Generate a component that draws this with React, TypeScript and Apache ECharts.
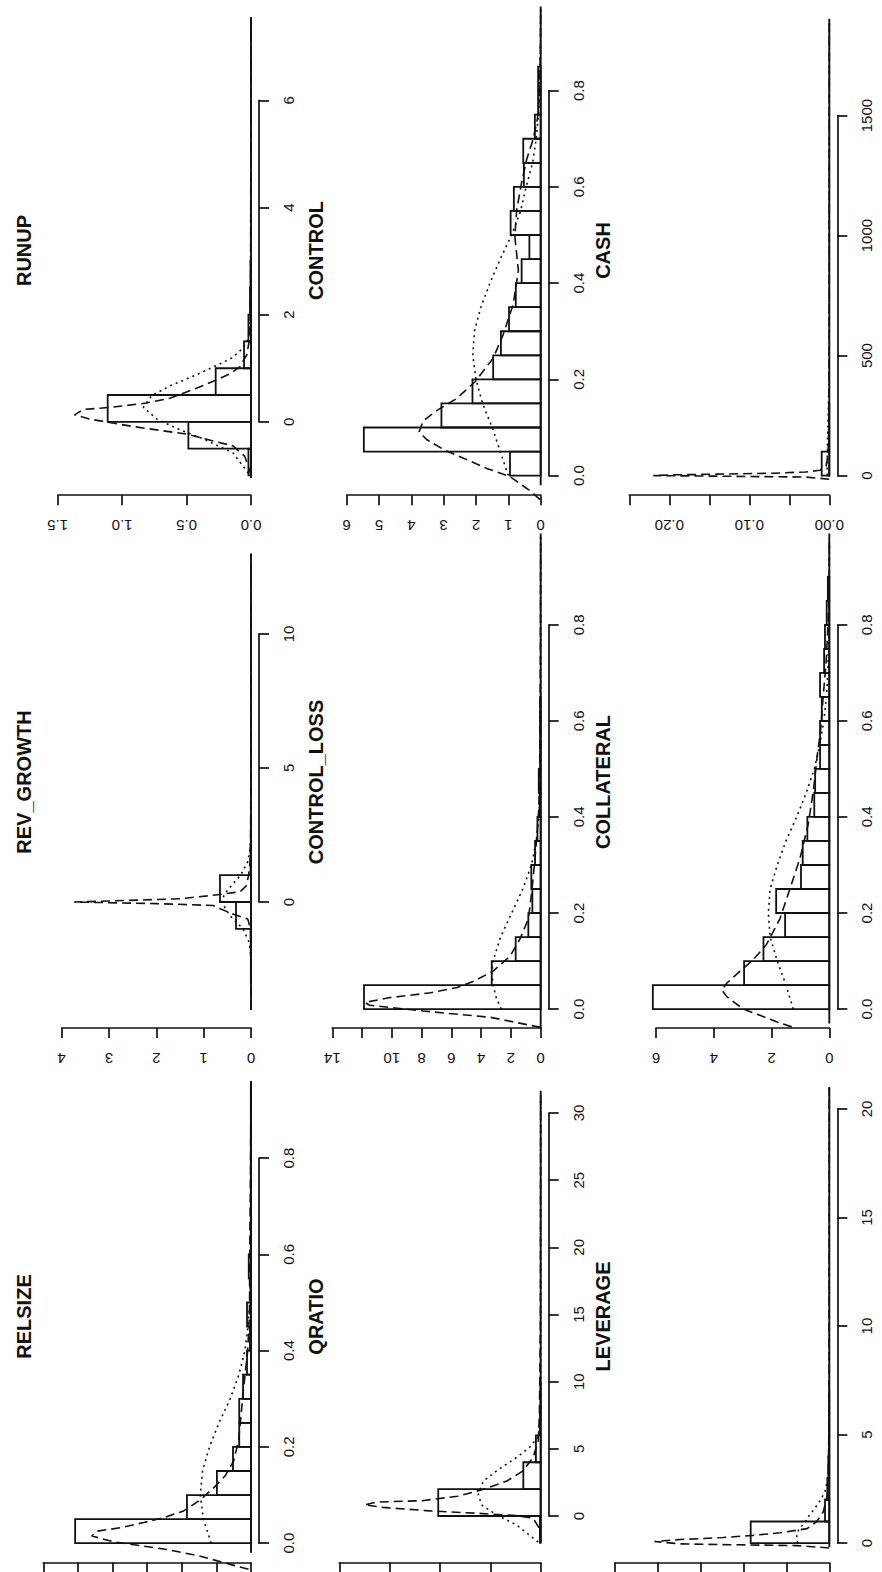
import React, { useEffect, useRef } from "react";
import * as echarts from "echarts";

const W = 882;
const H = 1572;

// ---------------- data (value = variable, density = histogram density) ----------------
// RUNUP
const RUNUP_BREAKS = [-1.0, -0.5, 0, 0.5, 1.0, 1.5, 2.0, 2.5, 3.0];
const RUNUP_DENSITY = [0.02, 0.486, 1.112, 0.274, 0.054, 0.02, 0.008, 0.004];
const RUNUP_KDE = [[-1.0, 0], [-0.83, 0.02], [-0.64, 0.05], [-0.45, 0.14], [-0.23, 0.5], [-0.09, 0.91], [0.05, 1.25], [0.13, 1.37], [0.23, 1.3], [0.27, 1.09], [0.35, 0.81], [0.44, 0.63], [0.555, 0.5], [0.65, 0.4], [0.78, 0.27], [0.9, 0.16], [1.03, 0.085], [1.25, 0.033], [1.56, 0.01], [2.5, 0.003], [4.0, 0.002], [7.55, 0]];
const RUNUP_NORMAL = [[-0.96, 0.02], [-0.58, 0.14], [-0.33, 0.36], [-0.14, 0.56], [0.05, 0.73], [0.27, 0.835], [0.49, 0.77], [0.68, 0.62], [0.87, 0.43], [1.06, 0.26], [1.19, 0.15], [1.38, 0.06], [1.56, 0.02], [2.0, 0.003], [7.55, 0]];
const RUNUP_RANGE = [-1.05, 7.55];
const RUNUP_VALUE_TICKS = [0, 2, 4, 6];
const RUNUP_DENSITY_TICKS = [0, 0.5, 1.0, 1.5];

// CONTROL
const CONTROL_BREAKS = [0, 0.05, 0.1, 0.15, 0.2, 0.25, 0.3, 0.35, 0.4, 0.45, 0.5, 0.55, 0.6, 0.65, 0.7, 0.75, 0.8, 0.85];
const CONTROL_DENSITY = [0.95, 5.47, 3.07, 2.11, 1.47, 1.23, 0.98, 0.77, 0.59, 0.35, 0.93, 0.83, 0.52, 0.54, 0.18, 0.08, 0.08];
const CONTROL_KDE = [[-0.05, 0.02], [-0.034, 0.28], [-0.002, 0.95], [0.015, 1.67], [0.054, 3.0], [0.075, 3.53], [0.091, 3.76], [0.114, 3.63], [0.135, 3.22], [0.16, 2.6], [0.195, 2.03], [0.244, 1.47], [0.293, 1.16], [0.356, 0.85], [0.426, 0.69], [0.497, 0.8], [0.553, 0.74], [0.609, 0.59], [0.658, 0.43], [0.7, 0.23], [0.742, 0.1], [0.79, 0.04], [0.88, 0.01], [0.97, 0]];
const CONTROL_NORMAL = [[0, 1.0], [0.05, 1.25], [0.1, 1.5], [0.15, 1.8], [0.2, 2.0], [0.25, 2.1], [0.3, 2.05], [0.35, 1.85], [0.4, 1.57], [0.45, 1.25], [0.5, 0.9], [0.55, 0.62], [0.6, 0.45], [0.65, 0.25], [0.7, 0.14], [0.75, 0.07], [0.8, 0.03], [0.9, 0.005], [0.97, 0]];
const CONTROL_RANGE = [-0.02, 0.975];
const CONTROL_VALUE_TICKS = [0, 0.2, 0.4, 0.6, 0.8];
const CONTROL_DENSITY_TICKS = [0, 1, 2, 3, 4, 5, 6];

// CASH
const CASH_BREAKS = [0, 100, 200, 300];
const CASH_DENSITY = [0.0095, 0.0004, 0.0001];
const CASH_KDE = [[-15, 0], [-6, 0.03], [-2, 0.15], [0, 0.22], [3, 0.2], [6, 0.14], [10, 0.07], [15, 0.03], [22, 0.012], [40, 0.004], [80, 0.002], [150, 0.001], [300, 0.0003], [600, 0.0001], [1900, 0]];
const CASH_NORMAL = [[0, 0.0026], [50, 0.0027], [150, 0.0022], [250, 0.0014], [350, 0.0007], [450, 0.0003], [600, 0.00005], [1900, 0]];
const CASH_RANGE = [-5, 1904];
const CASH_VALUE_TICKS = [0, 500, 1000, 1500];
const CASH_DENSITY_TICKS = [0, 0.05, 0.1, 0.15, 0.2, 0.25];

// REV_GROWTH
const REV_BREAKS = [-3, -2, -1, 0, 1, 2, 3];
const REV_DENSITY = [0.003, 0.006, 0.317, 0.655, 0.01, 0.003];
const REV_KDE = [[-4, 0], [-2, 0.004], [-1, 0.01], [-0.63, 0.07], [-0.44, 0.4], [-0.25, 0.65], [-0.13, 0.8], [-0.06, 2.0], [0, 3.74], [0.06, 2.6], [0.12, 1.5], [0.25, 0.8], [0.38, 0.23], [0.6, 0.1], [1.0, 0.05], [1.5, 0.02], [2.5, 0.008], [5, 0.003], [13, 0]];
const REV_NORMAL = [[-3.5, 0], [-2.0, 0.004], [-1.5, 0.04], [-1.0, 0.17], [-0.5, 0.45], [0, 0.62], [0.3, 0.56], [0.6, 0.42], [1.0, 0.22], [1.5, 0.07], [2.0, 0.015], [2.5, 0.002], [3, 0], [12.5, 0]];
const REV_RANGE = [-4.03, 12.99];
const REV_VALUE_TICKS = [0, 5, 10];
const REV_DENSITY_TICKS = [0, 1, 2, 3, 4];

// CONTROL_LOSS
const CLOSS_BREAKS = [0, 0.05, 0.1, 0.15, 0.2, 0.25, 0.3, 0.35, 0.4, 0.45, 0.5, 0.55, 0.6, 0.65];
const CLOSS_DENSITY = [11.87, 3.29, 1.68, 0.83, 0.56, 0.63, 0.38, 0.22, 0.07, 0.13, 0.04, 0.04, 0.04];
const CLOSS_KDE = [[-0.038, 0], [-0.017, 3.4], [-0.004, 7.9], [0.008, 11.5], [0.014, 11.8], [0.024, 10.1], [0.034, 7.4], [0.045, 5.6], [0.058, 4.5], [0.079, 3.2], [0.11, 2.06], [0.146, 1.39], [0.188, 0.83], [0.244, 0.6], [0.315, 0.38], [0.37, 0.23], [0.42, 0.12], [0.526, 0.06], [0.74, 0.02], [0.98, 0]];
const CLOSS_NORMAL = [[0, 2.65], [0.025, 3.0], [0.05, 3.2], [0.075, 3.28], [0.1, 3.2], [0.15, 2.7], [0.2, 1.95], [0.25, 1.2], [0.3, 0.62], [0.35, 0.3], [0.4, 0.12], [0.45, 0.04], [0.5, 0.01], [0.6, 0], [0.99, 0]];
const CLOSS_RANGE = [-0.04, 0.99];
const CLOSS_VALUE_TICKS = [0, 0.2, 0.4, 0.6, 0.8];
const CLOSS_DENSITY_TICKS = [0, 2, 4, 6, 8, 10, 12, 14];

// COLLATERAL
const COLL_BREAKS = [0, 0.05, 0.1, 0.15, 0.2, 0.25, 0.3, 0.35, 0.4, 0.45, 0.5, 0.55, 0.6, 0.65, 0.7, 0.75, 0.8, 0.85, 0.9];
const COLL_DENSITY = [6.11, 2.95, 2.28, 1.53, 1.84, 0.98, 0.92, 0.76, 0.52, 0.49, 0.32, 0.32, 0.26, 0.32, 0.18, 0.15, 0.09, 0.05];
const COLL_KDE = [[-0.037, 1.3], [-0.029, 1.71], [-0.013, 2.4], [0.0, 2.98], [0.026, 3.55], [0.04, 3.72], [0.054, 3.55], [0.079, 3.09], [0.103, 2.63], [0.135, 2.17], [0.188, 1.71], [0.251, 1.36], [0.315, 1.01], [0.385, 0.73], [0.455, 0.55], [0.526, 0.42], [0.582, 0.3], [0.652, 0.21], [0.722, 0.11], [0.807, 0.04], [0.91, 0], [0.97, 0]];
const COLL_NORMAL = [[0, 1.25], [0.05, 1.5], [0.1, 1.8], [0.15, 2.05], [0.2, 2.11], [0.25, 2.05], [0.3, 1.8], [0.35, 1.5], [0.4, 1.13], [0.45, 0.8], [0.5, 0.52], [0.55, 0.33], [0.6, 0.19], [0.65, 0.1], [0.7, 0.05], [0.8, 0.01], [0.9, 0], [0.97, 0]];
const COLL_RANGE = [-0.03, 0.99];
const COLL_VALUE_TICKS = [0, 0.2, 0.4, 0.6, 0.8];
const COLL_DENSITY_TICKS = [0, 2, 4, 6];

// RELSIZE
const RELSIZE_BREAKS = [0, 0.05, 0.1, 0.15, 0.2, 0.25, 0.3, 0.35, 0.4, 0.45, 0.5, 0.55, 0.6, 0.65, 0.7, 0.75, 0.8, 0.85, 0.9, 0.95];
const RELSIZE_DENSITY = [10.16, 3.7, 1.97, 1.04, 0.68, 0.68, 0.46, 0.23, 0.06, 0.23, 0.03, 0.13, 0.01, 0.01, 0.01, 0.01, 0.01, 0.01, 0.01];
const RELSIZE_KDE = [[-0.054, 0.14], [-0.044, 1.2], [-0.027, 2.93], [-0.013, 4.86], [-0.005, 6.4], [0.003, 7.94], [0.015, 9.2], [0.025, 8.9], [0.032, 7.55], [0.043, 6.2], [0.053, 5.05], [0.067, 3.9], [0.09, 2.93], [0.115, 2.16], [0.14, 1.49], [0.171, 1.0], [0.213, 0.72], [0.263, 0.58], [0.312, 0.46], [0.354, 0.33], [0.397, 0.2], [0.446, 0.12], [0.495, 0.08], [0.58, 0.08], [0.763, 0.03], [0.96, 0]];
const RELSIZE_NORMAL = [[0, 2.3], [0.05, 2.75], [0.1, 2.93], [0.15, 2.8], [0.2, 2.4], [0.25, 1.85], [0.3, 1.2], [0.35, 0.7], [0.4, 0.35], [0.45, 0.17], [0.5, 0.07], [0.6, 0.01], [0.7, 0], [0.96, 0]];
const RELSIZE_RANGE = [-0.02, 0.96];
const RELSIZE_VALUE_TICKS = [0, 0.2, 0.4, 0.6, 0.8];
const RELSIZE_DENSITY_TICKS = [0, 2, 4, 6, 8, 10, 12];

// QRATIO
const QRATIO_BREAKS = [-2, 0, 2, 4, 6, 8, 10];
const QRATIO_DENSITY = [0.003, 0.407, 0.069, 0.019, 0.003, 0.001];
const QRATIO_KDE = [[-1.9, 0], [-0.93, 0.005], [-0.17, 0.03], [0.03, 0.095], [0.2, 0.25], [0.38, 0.44], [0.64, 0.626], [0.83, 0.7], [1.04, 0.65], [1.14, 0.47], [1.47, 0.33], [1.97, 0.23], [2.6, 0.135], [3.36, 0.07], [4.37, 0.03], [5.6, 0.01], [7.6, 0.005], [15, 0.001], [31.6, 0]];
const QRATIO_NORMAL = [[-1.94, 0.01], [-0.68, 0.095], [0.08, 0.175], [0.83, 0.235], [1.59, 0.248], [2.6, 0.228], [3.36, 0.175], [4.37, 0.095], [5.13, 0.043], [5.9, 0.01], [7.6, 0], [31.6, 0]];
const QRATIO_RANGE = [-1.95, 31.65];
const QRATIO_VALUE_TICKS = [0, 5, 10, 15, 20, 25, 30];
const QRATIO_DENSITY_TICKS = [0, 0.2, 0.4, 0.6, 0.8];

// LEVERAGE
const LEV_BREAKS = [0, 1, 2, 3, 4, 5, 6, 7];
const LEV_DENSITY = [0.917, 0.05, 0.023, 0.012, 0.003, 0.002, 0.001];
const LEV_KDE = [[-0.22, 0], [-0.11, 0.38], [-0.07, 1.16], [-0.03, 1.74], [0.08, 2.04], [0.17, 1.74], [0.26, 1.24], [0.36, 0.89], [0.48, 0.575], [0.67, 0.26], [0.98, 0.15], [1.45, 0.07], [2.23, 0.023], [3.64, 0.01], [6.0, 0.003], [21, 0]];
const LEV_NORMAL = [[0, 0.37], [0.3, 0.38], [0.6, 0.36], [1.0, 0.28], [1.3, 0.23], [1.6, 0.17], [2.0, 0.1], [2.4, 0.05], [3.0, 0.015], [4.0, 0.002], [5, 0], [21, 0]];
const LEV_RANGE = [-0.18, 21.0];
const LEV_VALUE_TICKS = [0, 5, 10, 15, 20];
const LEV_DENSITY_TICKS = [0, 0.5, 1.0, 1.5, 2.0, 2.5];

// ---------------- panels ----------------
const PANELS = [
  { name: "RUNUP", breaks: RUNUP_BREAKS, dens: RUNUP_DENSITY, kde: RUNUP_KDE, norm: RUNUP_NORMAL, range: RUNUP_RANGE, vTicks: RUNUP_VALUE_TICKS, dTicks: RUNUP_DENSITY_TICKS, vDec: 0, dDec: 1, dHide: [] as number[], col: 0, band: 0 },
  { name: "CONTROL", breaks: CONTROL_BREAKS, dens: CONTROL_DENSITY, kde: CONTROL_KDE, norm: CONTROL_NORMAL, range: CONTROL_RANGE, vTicks: CONTROL_VALUE_TICKS, dTicks: CONTROL_DENSITY_TICKS, vDec: 1, dDec: 0, dHide: [] as number[], col: 1, band: 0 },
  { name: "CASH", breaks: CASH_BREAKS, dens: CASH_DENSITY, kde: CASH_KDE, norm: CASH_NORMAL, range: CASH_RANGE, vTicks: CASH_VALUE_TICKS, dTicks: CASH_DENSITY_TICKS, vDec: 0, dDec: 2, dHide: [0.05, 0.15, 0.25], col: 2, band: 0 },
  { name: "REV_GROWTH", breaks: REV_BREAKS, dens: REV_DENSITY, kde: REV_KDE, norm: REV_NORMAL, range: REV_RANGE, vTicks: REV_VALUE_TICKS, dTicks: REV_DENSITY_TICKS, vDec: 0, dDec: 0, dHide: [] as number[], col: 0, band: 1 },
  { name: "CONTROL_LOSS", breaks: CLOSS_BREAKS, dens: CLOSS_DENSITY, kde: CLOSS_KDE, norm: CLOSS_NORMAL, range: CLOSS_RANGE, vTicks: CLOSS_VALUE_TICKS, dTicks: CLOSS_DENSITY_TICKS, vDec: 1, dDec: 0, dHide: [12], col: 1, band: 1 },
  { name: "COLLATERAL", breaks: COLL_BREAKS, dens: COLL_DENSITY, kde: COLL_KDE, norm: COLL_NORMAL, range: COLL_RANGE, vTicks: COLL_VALUE_TICKS, dTicks: COLL_DENSITY_TICKS, vDec: 1, dDec: 0, dHide: [] as number[], col: 2, band: 1 },
  { name: "RELSIZE", breaks: RELSIZE_BREAKS, dens: RELSIZE_DENSITY, kde: RELSIZE_KDE, norm: RELSIZE_NORMAL, range: RELSIZE_RANGE, vTicks: RELSIZE_VALUE_TICKS, dTicks: RELSIZE_DENSITY_TICKS, vDec: 1, dDec: 0, dHide: [] as number[], col: 0, band: 2 },
  { name: "QRATIO", breaks: QRATIO_BREAKS, dens: QRATIO_DENSITY, kde: QRATIO_KDE, norm: QRATIO_NORMAL, range: QRATIO_RANGE, vTicks: QRATIO_VALUE_TICKS, dTicks: QRATIO_DENSITY_TICKS, vDec: 0, dDec: 1, dHide: [] as number[], col: 1, band: 2 },
  { name: "LEVERAGE", breaks: LEV_BREAKS, dens: LEV_DENSITY, kde: LEV_KDE, norm: LEV_NORMAL, range: LEV_RANGE, vTicks: LEV_VALUE_TICKS, dTicks: LEV_DENSITY_TICKS, vDec: 0, dDec: 1, dHide: [] as number[], col: 2, band: 2 },
];

// ---------------- layout (pixels) ----------------
const COL_ZERO_X = [251, 540.7, 829.3]; // density = 0
const AXIS_GAP = 8; // plot region edge beyond density 0
const BAND_AXIS_Y = [495.2, 1028, 1562.5];
const TITLE_X = [24, 315.5, 603];
const TITLE_Y = [250.5, 782, 1316.5];
// per panel: pixel of first value tick, last value tick, last density tick
const PANEL_PX: Record<string, [number, number, number]> = {
  RUNUP: [421.8, 100.4, 57.7],
  CONTROL: [475.6, 90.6, 346.7],
  CASH: [475.6, 115.6, 629.3],
  REV_GROWTH: [902, 633.9, 61.7],
  CONTROL_LOSS: [1009.1, 624.8, 332.3],
  COLLATERAL: [1009.1, 624.8, 656],
  RELSIZE: [1543.2, 1158.1, 43.3],
  QRATIO: [1516, 1113, 339.3],
  LEVERAGE: [1543.2, 1108.9, 615],
};

const INK = "#111";
const FONT = "'Liberation Sans', Arial, Helvetica, sans-serif";

function buildOption() {
  const grid: any[] = [];
  const xAxis: any[] = [];
  const yAxis: any[] = [];
  const series: any[] = [];
  const graphic: any[] = [];

  PANELS.forEach((p, i) => {
    const [y0, yTop, xTop] = PANEL_PX[p.name];
    const x0 = COL_ZERO_X[p.col];
    grid.push({ left: xTop, right: W - x0, top: yTop, bottom: H - y0, containLabel: false });

    const dMin = p.dTicks[0];
    const dMax = p.dTicks[p.dTicks.length - 1];
    const vMin = p.vTicks[0];
    const vMax = p.vTicks[p.vTicks.length - 1];

    xAxis.push({
      gridIndex: i,
      type: "value",
      inverse: true,
      min: dMin,
      max: dMax,
      interval: p.dTicks[1] - p.dTicks[0],
      position: "bottom",
      offset: BAND_AXIS_Y[p.band] - y0,
      splitLine: { show: false },
      axisLine: { show: true, onZero: false, lineStyle: { color: INK, width: 1.7 } },
      axisTick: { show: true, length: 10, lineStyle: { color: INK, width: 1.7 } },
      axisLabel: {
        show: p.band < 2,
        rotate: 180,
        margin: 23,
        fontSize: 15,
        fontFamily: FONT,
        color: INK,
        showMinLabel: true,
        showMaxLabel: true,
        formatter: (v: number) => (p.dHide.some((h) => Math.abs(h - v) < 1e-9) ? "" : v.toFixed(p.dDec)),
      },
    });
    yAxis.push({
      gridIndex: i,
      type: "value",
      min: vMin,
      max: vMax,
      interval: p.vTicks[1] - p.vTicks[0],
      position: "right",
      offset: AXIS_GAP,
      splitLine: { show: false },
      axisLine: { show: true, onZero: false, lineStyle: { color: INK, width: 1.7 } },
      axisTick: { show: true, length: 10, lineStyle: { color: INK, width: 1.7 } },
      axisLabel: {
        show: true,
        rotate: 90,
        margin: 22,
        fontSize: 15,
        fontFamily: FONT,
        color: INK,
        showMinLabel: true,
        showMaxLabel: true,
        formatter: (v: number) => v.toFixed(p.vDec),
      },
    });

    const bins = p.dens.map((d, k) => [p.breaks[k], p.breaks[k + 1], d]);
    series.push({
      type: "custom",
      xAxisIndex: i,
      yAxisIndex: i,
      clip: false,
      silent: true,
      data: bins,
      encode: { x: 2, y: [0, 1] },
      renderItem: (params: any, api: any) => {
        const a = api.coord([0, api.value(0)]);
        const b = api.coord([api.value(2), api.value(1)]);
        return {
          type: "rect",
          shape: {
            x: Math.min(a[0], b[0]),
            y: Math.min(a[1], b[1]),
            width: Math.abs(a[0] - b[0]),
            height: Math.abs(a[1] - b[1]),
          },
          style: { fill: "none", stroke: INK, lineWidth: 1.8 },
        };
      },
      z: 2,
    });
    const lineBase = {
      type: "line",
      xAxisIndex: i,
      yAxisIndex: i,
      showSymbol: false,
      symbol: "none",
      clip: false,
      silent: true,
      z: 3,
    };
    series.push({
      ...lineBase,
      data: [[0, p.range[0]], [0, p.range[1]]],
      lineStyle: { color: INK, width: 1.9, type: "solid" },
    });
    series.push({
      ...lineBase,
      data: p.kde.map(([v, d]) => [d, v]),
      lineStyle: { color: INK, width: 1.6, type: [9, 5] },
    });
    series.push({
      ...lineBase,
      data: p.norm.map(([v, d]) => [d, v]),
      lineStyle: { color: INK, width: 1.6, type: [2, 4] },
    });

    graphic.push({
      type: "text",
      x: TITLE_X[p.col],
      y: TITLE_Y[p.band],
      rotation: Math.PI / 2,
      style: {
        text: p.name,
        fill: INK,
        font: `bold 20px ${FONT}`,
        textAlign: "center",
        textVerticalAlign: "middle",
      },
    });
  });

  return {
    animation: false,
    backgroundColor: "#ffffff",
    textStyle: { fontFamily: FONT },
    grid,
    xAxis,
    yAxis,
    series,
    graphic,
  };
}

export default function App() {
  const ref = useRef<HTMLDivElement>(null);
  useEffect(() => {
    if (!ref.current) return;
    const chart = echarts.init(ref.current, undefined, { renderer: "svg" });
    chart.setOption(buildOption() as any);
    return () => chart.dispose();
  }, []);
  return (
    <div
      ref={ref}
      style={{ position: "absolute", left: 0, top: 0, width: W, height: H, background: "#fff" }}
    />
  );
}
